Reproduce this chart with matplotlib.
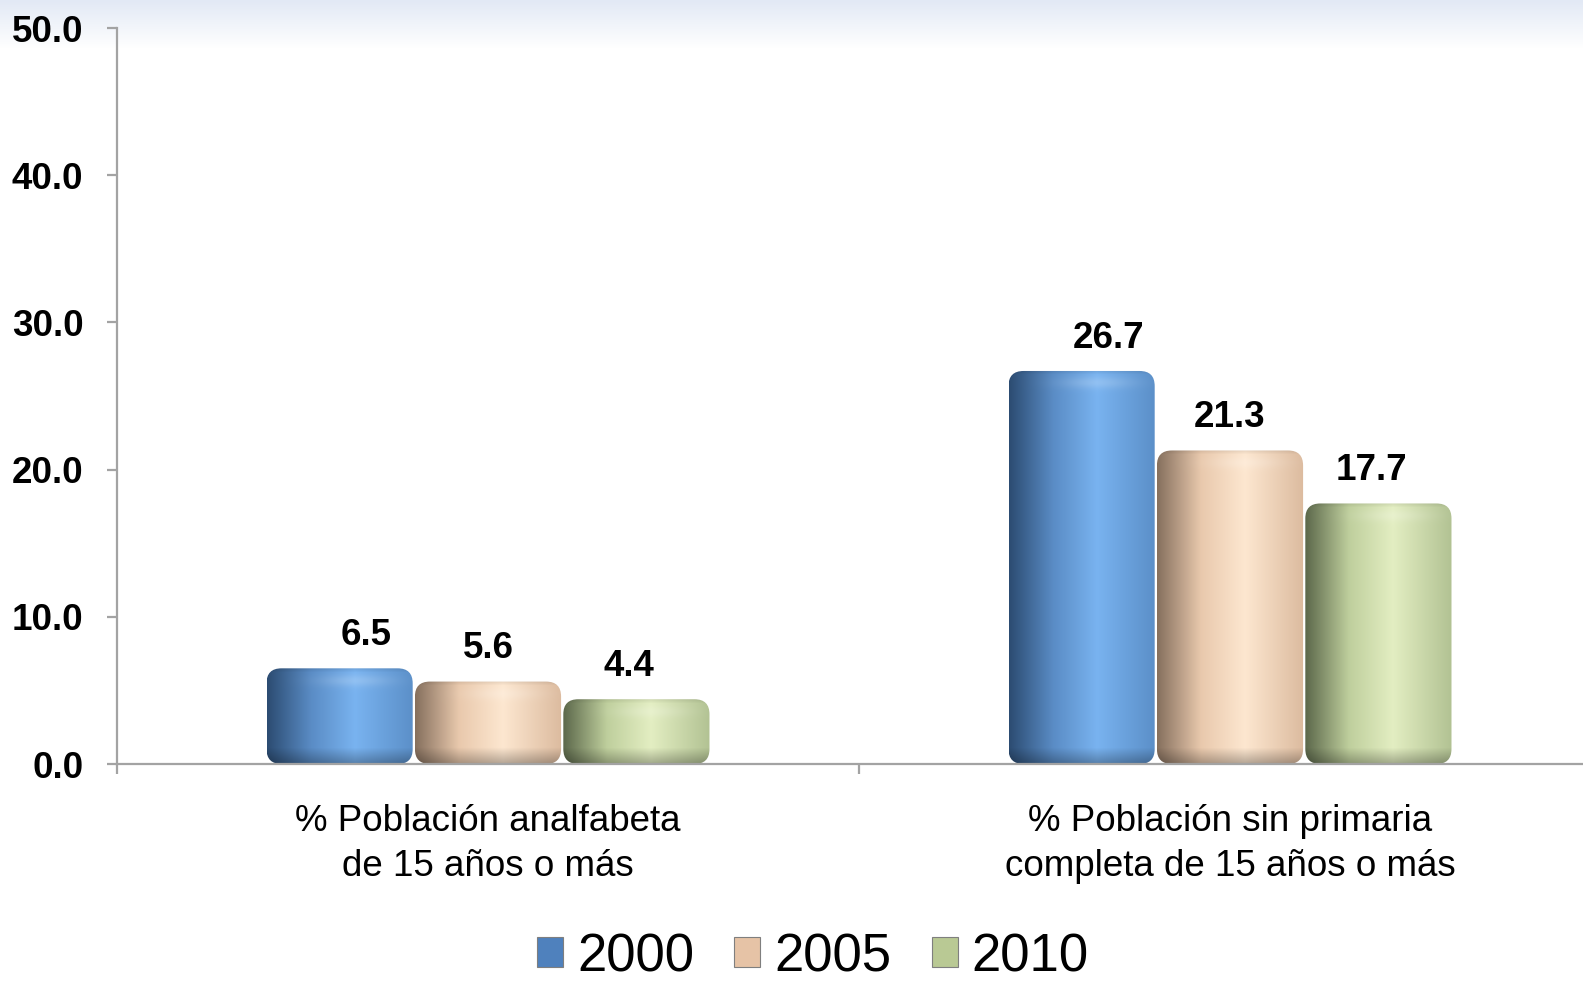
import numpy as np
import matplotlib
matplotlib.use("Agg")
import matplotlib.pyplot as plt
from matplotlib.patches import FancyBboxPatch, Patch
from matplotlib.colors import to_rgb

plt.rcParams['font.family'] = ['Liberation Sans', 'DejaVu Sans']

categories = ["% Población analfabeta\nde 15 años o más",
              "% Población sin primaria\ncompleta de 15 años o más"]
years = ["2000", "2005", "2010"]
values_2000 = [6.5, 26.7]
values_2005 = [5.6, 21.3]
values_2010 = [4.4, 17.7]
series = [values_2000, values_2005, values_2010]
y_ticks = [0, 10, 20, 30, 40, 50]

# color stops: left dark, mid, highlight, right edge
palettes = [
    ["#2c4c72", "#5a8cc5", "#79b3f0", "#5b8fc8"],
    ["#86705e", "#e9c9ad", "#fde7d0", "#dcbb9f"],
    ["#5c684b", "#bfcf9d", "#e3eec2", "#b2c293"],
]
legend_colors = ["#4f81bd", "#e6c3a6", "#b9c994"]
label_dx = [27, 0, -7]  # px offsets of value labels

W, H = 1583, 982
fig = plt.figure(figsize=(W / 100, H / 100), dpi=100)

# background gradient at top
bg = fig.add_axes([0, 0, 1, 1], zorder=-10)
g = np.ones((H, 1, 3))
top = np.array(to_rgb("#e2e9f5"))
fade = np.clip(np.arange(H) / 48.0, 0, 1)[:, None]
g[:, 0, :] = top * (1 - fade) + np.ones(3) * fade
bg.imshow(g, aspect='auto', extent=[0, 1, 0, 1], origin='upper')
bg.set_axis_off()

ax = fig.add_axes([117 / W, 218 / H, 1484 / W, 736 / H])
ax.set_facecolor('none')
ax.set_xlim(-0.5, 1.5)
ax.set_ylim(0, 50)

x = np.arange(len(categories))
bw = 0.197
offsets = [-0.2, 0.0, 0.2]

def stops_interp(t, cols, pos=(0.0, 0.3, 0.6, 1.0)):
    arr = np.array([to_rgb(c) for c in cols])
    out = np.zeros((len(t), 3))
    for k in range(3):
        out[:, k] = np.interp(t, pos, arr[:, k])
    return out

for si, (vals, pal) in enumerate(zip(series, palettes)):
    bars = ax.bar(x + offsets[si], vals, bw, color=legend_colors[si],
                  edgecolor='none', alpha=0.0, label=years[si])
    for b, v in zip(bars, vals):
        bx, by, bwid, bh = b.get_x(), b.get_y(), b.get_width(), b.get_height()
        p0 = ax.transData.transform((bx, by))
        p1 = ax.transData.transform((bx + bwid, by + bh))
        npx = max(int(round(p1[0] - p0[0])), 2)
        npy = max(int(round(p1[1] - p0[1])), 2)
        t = np.linspace(0, 1, npx)
        row = stops_interp(t, pal)
        img = np.repeat(row[None, :, :], npy, axis=0)
        d_top = np.arange(npy)[:, None]
        d_bot = (npy - 1 - np.arange(npy))[:, None]
        hl = np.exp(-((d_top - 12) / 6.0) ** 2) * 0.18
        hl = hl * np.exp(-((t[None, :] - 0.6) / 0.25) ** 2)
        img = img + hl[:, :, None] * (1 - img)
        dk = np.clip(1 - d_bot / 16.0, 0, 1) * 0.28
        img = img * (1 - dk[:, :, None])
        rim = np.clip(1 - d_top / 4.0, 0, 1) * 0.08
        img = img * (1 - rim[:, :, None])
        img = np.clip(img, 0, 1)
        rx = 15.0 / (p1[0] - p0[0]) * bwid
        ry = 15.0 / (p1[1] - p0[1]) * bh
        clip = FancyBboxPatch((bx, by), bwid, bh,
                              boxstyle=f"round,pad=0,rounding_size={rx}",
                              mutation_aspect=ry / rx,
                              facecolor='none', edgecolor='none',
                              transform=ax.transData)
        ax.add_patch(clip)
        im = ax.imshow(img, extent=[bx, bx + bwid, by, by + bh],
                       aspect='auto', origin='upper', zorder=2,
                       interpolation='bilinear')
        im.set_clip_path(clip)
        ax.annotate(f"{v:.1f}", xy=(bx + bwid / 2, by + bh),
                    xytext=(label_dx[si] * 0.72, 23.5), textcoords='offset points',
                    ha='center', va='center', fontsize=26.5,
                    fontweight='bold', color='black', zorder=5)

ax.set_xlim(-0.5, 1.5)
ax.set_ylim(0, 50)

for s in ['top', 'right']:
    ax.spines[s].set_visible(False)
for s in ['left', 'bottom']:
    ax.spines[s].set_color('#a3a3a3')
    ax.spines[s].set_linewidth(1.6)

ax.set_yticks(y_ticks)
ax.set_yticklabels([f"{v:.1f}" for v in y_ticks], fontsize=26.5, fontweight='bold')
ax.tick_params(axis='y', length=7.2, width=1.6, color='#a3a3a3', pad=17)

ax.set_xticks(x)
ax.set_xticklabels(categories, fontsize=26.5, linespacing=1.36)
ax.set_xticks([-0.5, 0.5, 1.5], minor=True)
ax.tick_params(axis='x', which='major', length=0, pad=29)
ax.tick_params(axis='x', which='minor', length=7.2, width=1.6, color='#a3a3a3')

handles = [Patch(facecolor=c, edgecolor='#7f7f7f', linewidth=0.8) for c in legend_colors]
fig.legend(handles, years, loc='lower center', bbox_to_anchor=(813 / W, 0.0),
           ncol=3, frameon=False, fontsize=38, handlelength=0.49, handleheight=0.49,
           handletextpad=0.27, columnspacing=0.76, borderpad=0, borderaxespad=0)

fig.savefig("out.png", dpi=100)
